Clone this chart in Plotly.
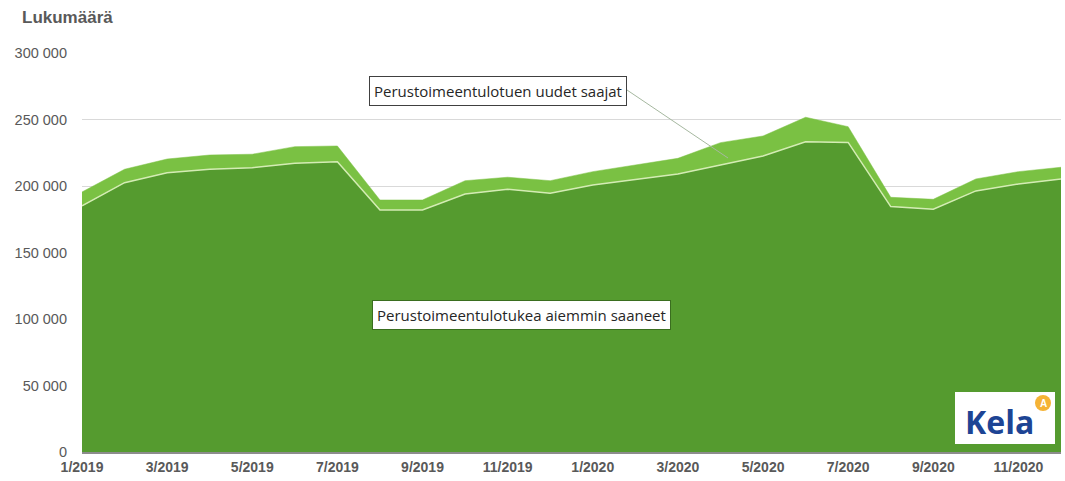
import plotly.graph_objects as go

months = [f"{m}/{y}" for y in (2019, 2020) for m in range(1, 13)]
aiemmin = [185000, 202500, 210000, 212600, 213800, 217100, 218300, 182000, 182000,
           194000, 197500, 194500, 200800, 205000, 209000, 215800, 222600, 233300,
           232800, 184500, 182500, 196300, 201500, 205300]
uudet = [10500, 10100, 10300, 10700, 10100, 12500, 11800, 7500, 7500,
         10000, 9100, 9500, 10000, 10800, 11800, 16800, 15000, 18400,
         11800, 7000, 7500, 9000, 9300, 8800]
y_ticks = [0, 50000, 100000, 150000, 200000, 250000, 300000]
y_tick_text = ["0", "50 000", "100 000", "150 000", "200 000", "250 000", "300 000"]
x_tick_idx = list(range(0, 24, 2))

W, H = 1065, 481
L, R, T, B = 82, 1061, 53, 452


def px(x):
    return (x - L) / (R - L)


def py(y):
    return (B - y) / (B - T)


fig = go.Figure()
fig.add_trace(go.Scatter(
    x=list(range(24)), y=aiemmin, stackgroup="s", mode="lines",
    line=dict(color="#d4ecb4", width=1.5), fillcolor="#559b2f",
    name="Perustoimeentulotukea aiemmin saaneet", hoverinfo="skip"))
fig.add_trace(go.Scatter(
    x=list(range(24)), y=uudet, stackgroup="s", mode="lines",
    line=dict(color="#7ac143", width=0.5), fillcolor="#7ac143",
    name="Perustoimeentulotuen uudet saajat", hoverinfo="skip"))

fig.update_layout(
    width=W, height=H,
    margin=dict(l=L, r=W - R, t=T, b=H - B, autoexpand=False),
    paper_bgcolor="white", plot_bgcolor="white",
    showlegend=False,
    font=dict(family="Arial, Liberation Sans", color="#595959"),
    xaxis=dict(range=[0, 23], tickvals=x_tick_idx,
               ticktext=[f"<b>{months[i]}</b>" for i in x_tick_idx],
               showgrid=False, zeroline=False, showline=True,
               linecolor="#8c8c8c", linewidth=1.5, ticks="",
               tickfont=dict(size=14, color="#595959", family="Arial"),
               ticklabelstandoff=1),
    yaxis=dict(range=[0, 300000], tickvals=y_ticks, ticktext=y_tick_text,
               showgrid=True, gridcolor="#d9d9d9", gridwidth=1,
               zeroline=False, ticks="", ticklabelstandoff=14,
               tickfont=dict(size=14.5, color="#595959")),
)

annotations = [
    dict(text="<b>Lukumäärä</b>", x=px(20), y=py(18), xref="paper", yref="paper",
         xanchor="left", yanchor="middle", showarrow=False,
         font=dict(size=17, color="#595959", family="Arial")),
    dict(text="Perustoimeentulotuen uudet saajat", x=px(497.5), y=py(91.5),
         xref="paper", yref="paper", xanchor="center", yanchor="middle",
         showarrow=False, bgcolor="white", bordercolor="#404040", borderwidth=1,
         borderpad=4, font=dict(size=15, color="#262626", family="Open Sans")),
    dict(text="Perustoimeentulotukea aiemmin saaneet", x=px(521), y=py(314.5),
         xref="paper", yref="paper", xanchor="center", yanchor="middle",
         showarrow=False, bgcolor="white", bordercolor="#3a6e1f", borderwidth=1,
         borderpad=4, font=dict(size=15, color="#262626", family="Open Sans")),
    dict(text="<b>Kela</b>", x=px(999), y=py(421), xref="paper", yref="paper",
         xanchor="center", yanchor="middle", showarrow=False,
         font=dict(size=32, color="#1d4494", family="Open Sans")),
    dict(text="<b>A</b>", x=px(1043), y=py(403), xref="paper", yref="paper",
         xanchor="center", yanchor="middle", showarrow=False,
         font=dict(size=10, color="white", family="Arial")),
]
fig.update_layout(annotations=annotations)

fig.add_shape(type="line", xref="paper", yref="paper",
              x0=px(627), y0=py(90), x1=px(728), y1=py(158),
              line=dict(color="#a6b8a0", width=1))
fig.add_shape(type="rect", xref="paper", yref="paper",
              x0=px(955), y0=py(444), x1=px(1055), y1=py(392),
              fillcolor="white", line=dict(width=0))
fig.add_shape(type="circle", xref="paper", yref="paper",
              x0=px(1035), y0=py(411), x1=px(1051), y1=py(395),
              fillcolor="#f5b335", line=dict(width=0))

fig.write_html("out.html", config={"displayModeBar": False},
               post_script="document.body.style.margin='0';document.body.style.overflow='hidden';")
